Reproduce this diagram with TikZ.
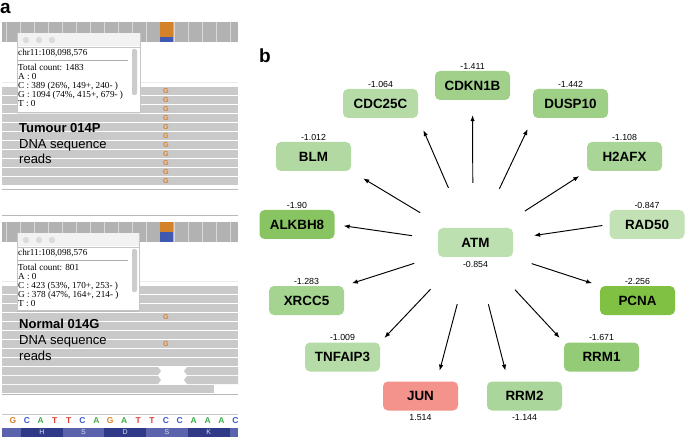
\documentclass[tikz,border=0pt]{standalone}
\usepackage{fontspec}
\setmainfont{Liberation Sans}
\newfontfamily\popfont{Liberation Serif}
\usetikzlibrary{arrows.meta,shadows}

\definecolor{cCDKN1B}{HTML}{A0D08A}
\definecolor{cCDC25C}{HTML}{B6DBA6}
\definecolor{cDUSP10}{HTML}{9ECF86}
\definecolor{cBLM}{HTML}{B3D9A3}
\definecolor{cH2AFX}{HTML}{A9D599}
\definecolor{cALKBH8}{HTML}{88C562}
\definecolor{cRAD50}{HTML}{C2E2B5}
\definecolor{cATM}{HTML}{BDE0B0}
\definecolor{cXRCC5}{HTML}{A5D491}
\definecolor{cPCNA}{HTML}{80C144}
\definecolor{cTNFAIP3}{HTML}{B5DBA6}
\definecolor{cRRM1}{HTML}{93CB77}
\definecolor{cJUN}{HTML}{F4928C}
\definecolor{cRRM2}{HTML}{ABD69B}
\definecolor{covgray}{HTML}{B2B2B2}
\definecolor{readgray}{HTML}{C9C9C9}
\definecolor{covorange}{HTML}{D4822A}
\definecolor{covblue}{HTML}{4058B0}
\definecolor{baseG}{HTML}{D9822B}
\definecolor{baseC}{HTML}{3A57C4}
\definecolor{baseA}{HTML}{3BAB4A}
\definecolor{baseT}{HTML}{E03C31}
\definecolor{aadark}{HTML}{2E3A87}
\definecolor{aalight}{HTML}{5B63AD}

\tikzstyle{arrow} = [draw, line width=0.95pt, color=black, -{Latex[length=6pt,width=4.5pt]}]
\tikzstyle{gene} = [rounded corners=5pt, minimum width=75pt, minimum height=29pt, inner sep=0pt, font=\bfseries\fontsize{13.4}{15}\selectfont]
\tikzstyle{valtext} = [inner sep=0.5pt, font=\fontsize{8.8}{10}\selectfont]
\tikzstyle{valabove} = [above=1pt]
\tikzstyle{valbelow} = [below=3.5pt]
\tikzstyle{hub} = [circle, minimum size=123pt, inner sep=0pt]
\tikzstyle{panel} = [anchor=base west, inner sep=0pt, font=\bfseries\fontsize{19}{19}\selectfont]
\tikzstyle{popup} = [draw=gray!45, fill=white, drop shadow={opacity=0.18, shadow xshift=0pt, shadow yshift=-2pt}]
\tikzstyle{poptext} = [anchor=base west, inner sep=0pt, font=\popfont\fontsize{9.2}{9.2}\selectfont]
\tikzstyle{gmark} = [inner sep=0pt, text=baseG, font=\bfseries\fontsize{7.2}{7.2}\selectfont]
\tikzstyle{sample} = [anchor=base west, inner sep=0pt, font=\fontsize{13}{15}\selectfont]
\tikzstyle{basetext} = [inner sep=0pt, font=\bfseries\fontsize{8.5}{8.5}\selectfont]
\tikzstyle{aatext} = [inner sep=0pt, text=white!80!aalight, font=\fontsize{7}{7}\selectfont]

\begin{document}
\begin{tikzpicture}[x=1pt,y=-1pt]
\useasboundingbox[fill=white] (0,0) rectangle (685,438);

\node[panel] (pa) at (0,13.5) {a};
\node[panel] (pb) at (259,63) {b};

% tumour reads
\fill[covgray] (2,22) rectangle (238,42);
\foreach \k in {0,...,16} \draw[gray!30, line width=0.8pt] (6+14*\k,22) -- (6+14*\k,42);
\fill[covorange] (160,22) rectangle (173,37);
\fill[covblue] (160,37) rectangle (173,42);
\draw[gray!15] (2,82) -- (238,82);
\foreach \k in {0,...,10} {
  \fill[readgray] (2,87+9*\k) rectangle (238,95+9*\k);
  \node[gmark] (tg\k) at (166,91+9*\k) {G};
}
\draw[gray!55, line width=1pt] (2,189.5) -- (238,189.5);

\filldraw[popup] (17,33) rectangle (140,112);
\fill[gray!10] (17.5,33.5) rectangle (139.5,46);
\foreach \cx in {26,39,52} \fill[gray!28] (\cx,40) circle (3.2pt);
\draw[gray!45] (17,47.5) -- (140,47.5);
\draw[gray!65, line width=1pt] (18,60.5) -- (128,60.5);
\fill[gray!40, rounded corners=2pt] (132,49) rectangle (137,95);
\node[poptext] (tp0) at (18,55.3) {chr11:108,098,576};
\foreach \t [count=\n] in {Total count: 1483, A : 0, {C : 389 (26\%, 149+, 240- )}, {G : 1094 (74\%, 415+, 679- )}, T : 0}
  \node[poptext] (tp\n) at (18,61.5+9*\n) {\t};

\node[sample, font=\bfseries\fontsize{13}{15}\selectfont] (t1) at (19,132.5) {Tumour 014P};
\node[sample] (t2) at (19,148.5) {DNA sequence};
\node[sample] (t3) at (19,163.5) {reads};

% normal reads
\draw[gray!55, line width=1pt] (2,216) -- (238,216);
\fill[covgray] (2,222) rectangle (238,242);
\foreach \k in {0,...,16} \draw[gray!30, line width=0.8pt] (6+14*\k,222) -- (6+14*\k,242);
\fill[covorange] (160,222) rectangle (173,232);
\fill[covblue] (160,232) rectangle (173,242);
\draw[gray!15] (2,281) -- (238,281);
\foreach \k in {0,...,8}
  \fill[readgray] (2,286+9*\k) rectangle (238,294+9*\k);
\foreach \k in {9,10} {
  \fill[readgray] (2,286+9*\k) -- (158,286+9*\k) -- (161,290+9*\k) -- (158,294+9*\k) -- (2,294+9*\k) -- cycle;
  \fill[readgray] (238,286+9*\k) -- (187,286+9*\k) -- (184,290+9*\k) -- (187,294+9*\k) -- (238,294+9*\k) -- cycle;
}
\fill[readgray] (2,385) rectangle (214,393);
\foreach \k in {3,6} \node[gmark] (ng\k) at (166,290+9*\k) {G};
\draw[gray!55, line width=1pt] (2,394.5) -- (238,394.5);

\filldraw[popup] (17,233) rectangle (139,310);
\fill[gray!10] (17.5,233.5) rectangle (138.5,246);
\foreach \cx in {26,39,52} \fill[gray!28] (\cx,240) circle (3.2pt);
\draw[gray!45] (17,247.5) -- (139,247.5);
\draw[gray!65, line width=1pt] (18,260.5) -- (128,260.5);
\fill[gray!40, rounded corners=2pt] (132,249) rectangle (137,292);
\node[poptext] (np0) at (18,255.3) {chr11:108,098,576};
\foreach \t [count=\n] in {Total count: 801, A : 0, {C : 423 (53\%, 170+, 253- )}, {G : 378 (47\%, 164+, 214- )}, T : 0}
  \node[poptext] (np\n) at (18,261.5+9*\n) {\t};

\node[sample, font=\bfseries\fontsize{13}{15}\selectfont] (n1) at (19,328) {Normal 014G};
\node[sample] (n2) at (19,344.5) {DNA sequence};
\node[sample] (n3) at (19,360) {reads};

\draw[gray!45] (2,414) -- (238,414);
\foreach \b [count=\n] in {G,C,A,T,T,C,A,G,A,T,T,C,C,A,A,A,C}
  \node[basetext, text=base\b] (s\n) at (-0.9+13.9*\n,421) {\b};
\fill[aalight] (2,428) rectangle (238,437);
\foreach \aa/\xs/\c [count=\n] in {H/21/aadark,S/62.7/aalight,D/104.4/aadark,S/146.1/aalight,K/187.8/aadark} {
  \fill[\c] (\xs,428) rectangle (\xs+41.7,437);
  \node[aatext] (aa\n) at (\xs+20.8,432.5) {\aa};
}

% network
\foreach \i/\x/\y/\p/\a/\v in {
  CDKN1B/472.5/85.5/valabove/north/-1.411,
  CDC25C/380.5/103.5/valabove/north/-1.064,
  DUSP10/570.5/103.5/valabove/north/-1.442,
  BLM/313.5/156.5/valabove/north/-1.012,
  H2AFX/624.5/156.5/valabove/north/-1.108,
  ALKBH8/297/224.5/valabove/north/-1.90,
  RAD50/647/224.5/valabove/north/-0.847,
  ATM/475.5/242.5/valbelow/south/-0.854,
  XRCC5/306.5/300.5/valabove/north/-1.283,
  PCNA/637.5/300.5/valabove/north/-2.256,
  TNFAIP3/342.5/357/valabove/north/-1.009,
  RRM1/601.5/357/valabove/north/-1.671,
  JUN/420.5/396/valbelow/south/1.514,
  RRM2/524.5/396/valbelow/south/-1.144}
{
  \node[gene, fill=c\i] (\i) at (\x,\y) {\i};
  \node[valtext, \p] (v\i) at (\i.\a) {\v};
}

\node[hub] (hub) at ([xshift=-2.5pt,yshift=-2pt]ATM.center) {};

\foreach \i/\a/\s in {CDKN1B/south/15pt, CDC25C/south east/13pt, DUSP10/south west/12pt,
  BLM/south east/14pt, H2AFX/south west/9pt, ALKBH8/east/9pt, XRCC5/north east/8pt,
  PCNA/north west/8pt, TNFAIP3/north east/6pt, RRM1/north west/6pt, JUN/42/11pt, RRM2/138/11pt}
  \draw[arrow, shorten >=\s] (hub) -- (\i.\a);
\draw[arrow, shorten <=7pt] (RAD50.west) -- (hub);

\end{tikzpicture}
\end{document}
